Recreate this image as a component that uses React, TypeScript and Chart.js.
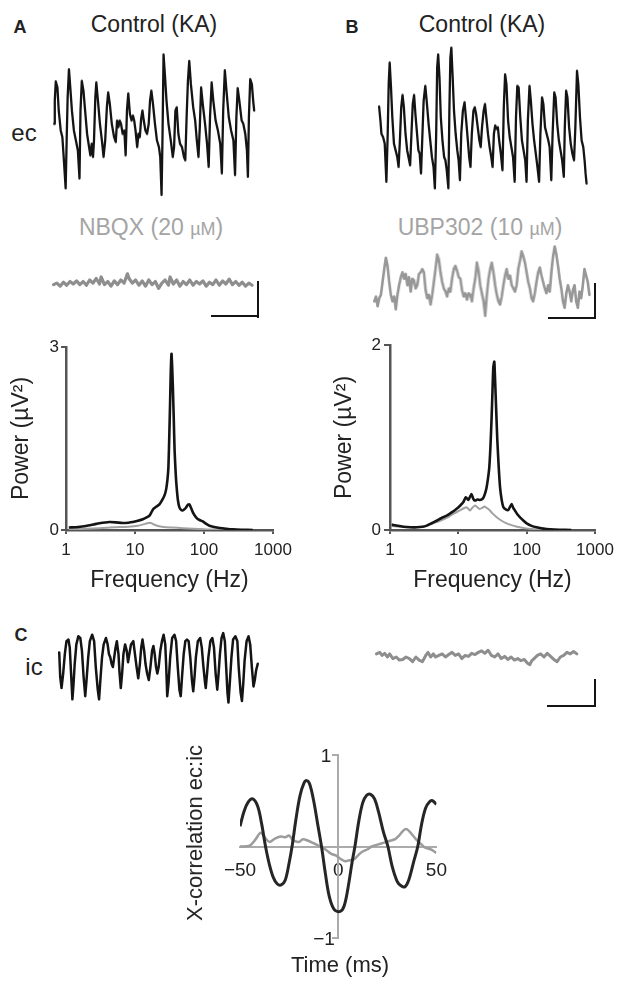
import React, { useEffect, useRef } from "react";
import { Chart, registerables } from "chart.js";

Chart.register(...registerables);

const FONT = '"Liberation Sans", Arial, Helvetica, sans-serif';
Chart.defaults.font.family = FONT;
Chart.defaults.color = "#222";

type Pt = [number, number];

// ---------- Raw traces: [sample, amplitude (µV)] ----------
const ecControlA: Pt[] = [
  [0, 10], [2, 80], [5, 138], [10, 120], [14, 50], [20, -10], [25, -30], [29, -90], [35, -185], [38, -40],
  [41, 90], [45, 175], [49, 120], [54, 50], [60, -10], [66, -40], [72, -70], [77, -155], [80, 50], [84, 140],
  [89, 110], [94, 50], [100, -20], [106, -60], [110, -85], [114, -50], [118, -90], [121, -40], [125, 90], [128, 135],
  [133, 80], [139, 10], [145, -40], [150, -90], [155, -40], [160, 60], [164, 105], [169, 70], [175, 10], [182, -30],
  [187, -45], [191, 20], [195, 0], [199, 20], [203, 10], [208, -20], [213, -10], [217, -85], [221, 50], [225, 102],
  [230, 40], [235, 20], [239, 35], [243, 20], [247, -10], [252, -60], [256, -20], [260, -30], [264, 25], [268, 50],
  [272, 20], [277, -10], [282, -20], [287, 10], [291, 80], [295, 110], [300, 70], [306, 10], [312, -40], [318, -60],
  [322, -90], [326, -205], [329, -20], [332, 220], [336, 160], [341, 80], [347, 10], [354, -40], [360, -90], [364, -60],
  [368, 50], [372, 60], [377, -20], [382, -50], [388, -60], [394, -90], [398, -100], [402, 30], [406, 140], [410, 200],
  [415, 130], [422, 60], [428, 20], [433, -40], [438, -90], [442, 0], [446, 120], [451, 70], [458, 10], [464, -50],
  [469, -120], [473, 30], [478, 135], [483, 80], [490, 20], [497, -10], [504, -50], [509, -140], [513, 50], [518, 172],
  [523, 110], [530, 30], [537, -10], [544, -40], [549, -145], [553, 30], [557, 118], [562, 80], [569, 20], [574, 10],
  [580, -20], [585, -70], [588, -150], [591, 30], [595, 145], [600, 130], [604, 80], [607, 50],
];

const ecControlB: Pt[] = [
  [0, 62], [4, 20], [7, -20], [12, -30], [17, -50], [22, -165], [26, -20], [29, 130], [32, 195], [36, 120],
  [40, 30], [45, -50], [50, -70], [55, -90], [59, -120], [63, -40], [67, 60], [71, 97], [75, 60], [80, -20],
  [85, -70], [89, -90], [94, -115], [98, -20], [102, 70], [106, 97], [110, 40], [115, -20], [119, -70], [123, -80],
  [127, -140], [131, -30], [135, 80], [140, 125], [145, 70], [150, 10], [155, -40], [160, -90], [165, -120], [169, -185],
  [173, -20], [176, 180], [179, 220], [183, 150], [187, 30], [192, -40], [197, -90], [201, -100], [205, -130], [210, -185],
  [213, 50], [216, 210], [219, 240], [223, 150], [227, 50], [232, -20], [237, -70], [241, -100], [245, -160], [249, -20],
  [254, 50], [259, 75], [264, 20], [269, -40], [273, -90], [277, -120], [281, -20], [286, 50], [290, 60], [294, 40],
  [299, 0], [304, -40], [308, -60], [312, 0], [317, 50], [321, 70], [325, 30], [330, -20], [335, -60], [340, -90],
  [344, -120], [348, -20], [352, 5], [356, -5], [360, 0], [364, -40], [369, -80], [374, -130], [378, 60], [382, 160],
  [386, 130], [391, 20], [396, -30], [401, -60], [406, -90], [411, -165], [415, 30], [419, 125], [423, 120], [428, 30],
  [433, -40], [438, -70], [443, -100], [447, -165], [451, 20], [456, 125], [460, 80], [465, 10], [470, -40], [475, -80],
  [480, -120], [485, -165], [489, -20], [494, 90], [498, 70], [503, 0], [508, -20], [513, -40], [517, -60], [522, -160],
  [526, -20], [531, 105], [535, 90], [540, 10], [545, -40], [550, -70], [555, -100], [560, -150], [563, 0], [567, 110],
  [571, 90], [576, 0], [581, -50], [586, -80], [591, -100], [595, 0], [600, 170], [604, 130], [609, 30], [614, -40],
  [619, -60], [623, -100], [626, -140], [629, -170],
];

const ecNBQX: Pt[] = [
  [0, -2], [10, 3], [20, -7], [30, 6], [40, -4], [50, 8], [60, 0], [70, 10], [80, -2], [90, 8],
  [100, -4], [110, 13], [120, 3], [130, 18], [140, 0], [145, 23], [155, -2], [165, 8], [175, -7], [185, 10],
  [195, -2], [205, 13], [215, 3], [225, 33], [230, 18], [240, 3], [250, 13], [260, -4], [270, 10], [280, -7],
  [290, 13], [300, -2], [310, 8], [320, -14], [330, 3], [340, 13], [350, -4], [355, 23], [365, 0], [375, 13],
  [385, -7], [395, 8], [405, -2], [415, 13], [425, -4], [435, 8], [445, 0], [455, 10], [465, -7], [475, 6],
  [485, -2], [495, 13], [505, -4], [515, 10], [525, 0], [535, 16], [545, -2], [555, 8], [565, -4], [575, 6],
  [585, -7], [595, 3], [605, -4],
];

const ecUBP302: Pt[] = [
  [0, -50], [5, -35], [10, -65], [15, -40], [20, -30], [25, 10], [30, 50], [35, 85], [40, 60], [45, 10],
  [50, -30], [55, -50], [60, -35], [65, -75], [70, -30], [75, 0], [80, 25], [85, 40], [90, 20], [95, 35],
  [100, 0], [105, 25], [110, -20], [115, 20], [120, 15], [125, -10], [130, 0], [135, 35], [140, 40], [145, 50],
  [150, 40], [155, -15], [160, -40], [165, -30], [170, -60], [175, -30], [180, 10], [185, 50], [190, 95], [195, 80],
  [200, 40], [205, 10], [210, -10], [215, -20], [220, -35], [225, -10], [230, -20], [235, 20], [240, 50], [245, 60],
  [250, 45], [255, 25], [260, 20], [265, -15], [270, -35], [275, -25], [280, -45], [285, -25], [290, -30], [295, -50],
  [300, -10], [305, 20], [310, 70], [315, 45], [320, 0], [325, -25], [330, -50], [335, -95], [340, -30], [345, 20],
  [350, 50], [355, 70], [360, 40], [365, 0], [370, -30], [375, -50], [380, -60], [385, -35], [390, 0], [395, 30],
  [400, 50], [405, 20], [410, 30], [415, 0], [420, -10], [425, -20], [430, 0], [435, 50], [440, 75], [445, 105],
  [450, 90], [455, 70], [460, 40], [465, 10], [470, -10], [475, -40], [480, -50], [485, -25], [490, 10], [495, 40],
  [500, 55], [505, 30], [510, 10], [515, -10], [520, -25], [525, 0], [530, -20], [535, 40], [540, 90], [545, 120],
  [550, 95], [555, 60], [560, 20], [565, -10], [570, -50], [575, -70], [580, -25], [585, 0], [590, -20], [595, -50],
  [600, -15], [605, 0], [610, -50], [615, -70], [620, -20], [625, -40], [630, 0], [635, 50], [640, 30], [645, 10],
  [650, -30],
];

const icControl: Pt[] = [
  [0, 45], [3, -30], [7, -65], [12, -20], [17, 40], [22, 80], [28, 85], [32, 60], [36, -20], [40, -100],
  [43, -60], [47, 10], [52, 70], [58, 95], [64, 90], [69, 50], [74, -30], [79, -90], [83, -40], [88, 30],
  [93, 80], [100, 100], [106, 80], [111, 0], [117, -70], [121, -100], [125, -40], [130, 30], [135, 70], [142, 90],
  [147, 70], [151, 40], [155, 30], [159, 10], [163, 0], [167, 30], [171, 60], [175, 80], [180, 40], [183, -15],
  [187, -65], [191, -20], [195, 40], [200, 70], [205, 50], [209, 15], [213, 40], [218, 70], [225, 80], [230, 40],
  [235, 0], [240, -35], [245, 10], [249, 60], [253, 85], [258, 50], [262, 10], [267, -20], [272, -40], [277, 0],
  [282, 50], [286, 65], [290, 40], [294, 0], [298, -20], [302, 0], [307, 50], [312, 80], [317, 100], [322, 70],
  [325, 0], [328, -90], [332, -50], [337, 30], [343, 90], [350, 100], [355, 80], [360, 0], [365, -70], [369, -90],
  [373, -30], [378, 40], [383, 80], [388, 85], [393, 80], [398, 30], [403, -40], [407, -75], [411, -30], [415, 30],
  [421, 80], [428, 90], [433, 60], [438, 0], [443, -50], [445, -65], [449, -20], [453, 30], [459, 80], [465, 90],
  [470, 60], [475, -20], [480, -70], [484, -20], [488, 40], [493, 90], [498, 105], [503, 80], [507, 0], [511, -80],
  [514, -110], [518, -50], [523, 30], [528, 85], [535, 95], [541, 80], [545, 0], [551, -80], [555, -105], [559, -50],
  [563, 20], [569, 80], [575, 95], [580, 70], [585, 0], [590, -60], [594, -40], [598, -10], [603, 10],
];

const icUBP302: Pt[] = [
  [0, 10], [10, 15], [17, 5], [25, 12], [33, 0], [40, 10], [50, -5], [60, 0], [70, -10], [80, -8],
  [90, 0], [100, -5], [110, -15], [120, 0], [130, -10], [140, -15], [150, 5], [157, 15], [165, 0], [173, 10],
  [180, 0], [190, 5], [200, 10], [210, 0], [220, 8], [230, 15], [240, 5], [250, 10], [260, -5], [270, 5],
  [280, 2], [290, 12], [300, 8], [310, 15], [320, 20], [330, 12], [340, 22], [350, 5], [360, 0], [370, 10],
  [380, -5], [390, 2], [400, -8], [410, 0], [420, -10], [430, -5], [440, -12], [450, -8], [460, -20], [467, -25],
  [473, -12], [480, -5], [490, 5], [500, 10], [510, 0], [520, 12], [530, 2], [540, -8], [550, -15], [560, 0],
  [570, 5], [580, 15], [590, 10], [600, 18], [610, 10],
];

// ---------- Power spectra: [frequency (Hz), power (µV²)] ----------
const spectrumAControl: Pt[] = [
  [1.1, 0.04], [1.5, 0.05], [1.95, 0.066], [2.5, 0.09], [3.05, 0.11], [4.25, 0.13], [5.3, 0.125], [6.6, 0.115],
  [8, 0.12], [9.3, 0.13], [11, 0.15], [13, 0.175], [15, 0.21], [16.2, 0.235], [17.5, 0.3], [18.5, 0.345],
  [20.2, 0.38], [22.6, 0.42], [25.3, 0.51], [27, 0.58], [28.3, 0.67], [29.5, 0.82], [30.5, 1.03], [31.5, 1.6],
  [32.3, 2.12], [33, 2.6], [33.8, 2.89], [34.5, 2.7], [35.4, 2.34], [36.5, 1.8], [37.5, 1.3], [39, 0.9],
  [40.5, 0.65], [42, 0.48], [44, 0.37], [46.5, 0.33], [49, 0.32], [52, 0.34], [55, 0.37], [58, 0.41],
  [61.5, 0.42], [65, 0.36], [69, 0.29], [75, 0.22], [81, 0.18], [88, 0.16], [96, 0.14], [108, 0.1],
  [120, 0.07], [140, 0.05], [168, 0.033], [210, 0.02], [262, 0.01], [350, 0.004], [510, 0.0],
];
const spectrumANBQX: Pt[] = [
  [1.1, 0.01], [2, 0.02], [3, 0.03], [5, 0.045], [8, 0.055], [11, 0.07], [14, 0.1], [16.5, 0.12],
  [18, 0.1], [21, 0.07], [26, 0.05], [35, 0.04], [50, 0.03], [70, 0.02], [110, 0.01], [180, 0.005], [300, 0.0],
];
const spectrumBControl: Pt[] = [
  [1.06, 0.058], [1.3, 0.045], [1.57, 0.036], [2, 0.03], [2.45, 0.029], [3, 0.035], [3.44, 0.047], [4, 0.07],
  [4.8, 0.1], [5.7, 0.13], [6.75, 0.155], [8, 0.19], [9.45, 0.23], [10.5, 0.26], [11.8, 0.3], [12.9, 0.354],
  [14, 0.325], [15.6, 0.39], [16.5, 0.34], [17.5, 0.318], [19, 0.33], [20.7, 0.325], [22, 0.33], [23.2, 0.347],
  [24.5, 0.39], [25.9, 0.46], [27.2, 0.56], [28.4, 0.68], [29.5, 0.9], [30.7, 1.22], [31.6, 1.5], [32.5, 1.76],
  [33.6, 1.82], [34.2, 1.7], [34.8, 1.55], [36, 1.25], [37.2, 0.97], [39, 0.68], [40.8, 0.46], [43, 0.33],
  [45.7, 0.246], [50, 0.22], [54, 0.217], [57, 0.25], [60.3, 0.28], [63.5, 0.24], [67.5, 0.21], [73, 0.17],
  [80, 0.137], [90, 0.1], [100, 0.072], [118, 0.045], [140, 0.029], [175, 0.015], [219, 0.007], [300, 0.002], [450, 0.0],
];
const spectrumBUBP302: Pt[] = [
  [1.06, 0.043], [1.5, 0.035], [1.85, 0.029], [2.5, 0.03], [3.44, 0.043], [4.2, 0.07], [5.2, 0.094], [6.3, 0.12],
  [7.3, 0.145], [8.7, 0.18], [10.4, 0.21], [12, 0.235], [13.2, 0.246], [14, 0.23], [14.8, 0.21], [16, 0.24],
  [17.5, 0.264], [19, 0.245], [20.5, 0.228], [22.5, 0.24], [24, 0.253], [26.5, 0.235], [29, 0.21], [31.5, 0.18],
  [34.4, 0.155], [38.5, 0.125], [43, 0.1], [49, 0.078], [57, 0.058], [70, 0.038], [89, 0.022], [120, 0.01],
  [170, 0.004], [260, 0.0],
];

// ---------- Cross-correlation ec:ic: [lag (ms), r] ----------
const xcorrControl: Pt[] = [
  [-50, 0.22], [-48, 0.38], [-46, 0.48], [-43.5, 0.52], [-41, 0.44], [-39, 0.25], [-37, 0.0], [-35, -0.2],
  [-33, -0.34], [-31, -0.41], [-29, -0.42], [-27, -0.37], [-25, -0.18], [-23.5, 0.0], [-21.5, 0.3], [-19.5, 0.55],
  [-17.5, 0.69], [-16, 0.72], [-14.5, 0.68], [-12.5, 0.5], [-10.5, 0.25], [-8.5, 0.0], [-6.5, -0.3], [-4.5, -0.55],
  [-2, -0.69], [1, -0.71], [3, -0.65], [5, -0.45], [7, -0.18], [8.5, 0.0], [10.5, 0.28], [12.5, 0.48],
  [14.5, 0.56], [16.5, 0.57], [18.5, 0.52], [20.5, 0.38], [23, 0.16], [25.3, 0.0], [27.5, -0.22], [30, -0.38],
  [32, -0.43], [34, -0.44], [36, -0.36], [38.5, -0.16], [40.5, 0.0], [42.5, 0.25], [44.5, 0.42], [46.5, 0.49],
  [48, 0.5], [50, 0.46],
];
const xcorrUBP302: Pt[] = [
  [-50, 0.0], [-45, 0.01], [-42, 0.08], [-39.5, 0.15], [-37, 0.09], [-35, 0.05], [-32, 0.09], [-29, 0.11],
  [-27, 0.1], [-25, 0.12], [-23, 0.07], [-20, 0.05], [-18, 0.08], [-15, 0.06], [-12, 0.03], [-9, 0.0],
  [-6, -0.04], [-3.5, -0.08], [-1, -0.1], [1.5, -0.14], [3.5, -0.16], [6, -0.15], [8, -0.14], [10, -0.1],
  [12, -0.06], [15, -0.03], [17, 0.0], [20, 0.02], [23, 0.04], [26, 0.06], [29, 0.08], [31, 0.12],
  [33, 0.17], [34.5, 0.19], [36, 0.17], [38, 0.12], [40, 0.07], [42, 0.03], [44, -0.01], [47, -0.03], [50, -0.07],
];

// ---------- Tick labels ----------
const freqTicks = [1, 10, 100, 1000];
const powerATicks = [0, 3];
const powerBTicks = [0, 2];
const lagTicks = [-50, 0, 50];
const corrTicks = [-1, 1];

const fmt = (v: number) => (v < 0 ? "\u2212" + Math.abs(v) : String(v));
const toXY = (pts: Pt[]) => pts.map(([x, y]) => ({ x, y }));

const baseOptions = {
  animation: false,
  responsive: true,
  maintainAspectRatio: false,
  events: [],
  plugins: { legend: { display: false }, tooltip: { enabled: false } },
};

function traceConfig(pts: Pt[], color: string, width: number, xr: [number, number], yr: [number, number]) {
  return () => ({
    type: "line",
    data: {
      datasets: [
        {
          data: toXY(pts),
          borderColor: color,
          borderWidth: width,
          pointRadius: 0,
          tension: 0,
          borderJoinStyle: "round",
          borderCapStyle: "round",
          fill: false,
        },
      ],
    },
    options: {
      ...baseOptions,
      layout: { padding: 0 },
      scales: {
        x: { type: "linear", display: false, min: xr[0], max: xr[1] },
        y: { type: "linear", display: false, min: yr[0], max: yr[1] },
      },
    },
  });
}

function spectrumConfig(
  control: Pt[],
  drug: Pt[],
  yTicks: number[],
  p: { yWidth: number; titlePad: number; tickLen: number; tickPad: number; padding: any }
) {
  const axisColor = "#555";
  return () => ({
    type: "line",
    data: {
      datasets: [
        { data: toXY(control), borderColor: "#141414", borderWidth: 2.6, pointRadius: 0, tension: 0.2, fill: false },
        { data: toXY(drug), borderColor: "#a2a2a2", borderWidth: 2, pointRadius: 0, tension: 0.2, fill: false },
      ],
    },
    options: {
      ...baseOptions,
      layout: { padding: p.padding },
      scales: {
        x: {
          type: "logarithmic",
          min: freqTicks[0],
          max: freqTicks[freqTicks.length - 1],
          afterBuildTicks: (s: any) => {
            s.ticks = freqTicks.map((v) => ({ value: v }));
          },
          afterFit: (s: any) => {
            s.height = 70;
          },
          ticks: { callback: (v: number) => String(v), font: { size: 17 }, color: "#222", padding: 6, maxRotation: 0, autoSkip: false },
          grid: { display: true, drawOnChartArea: false, drawTicks: true, tickLength: 4, color: axisColor, lineWidth: 2 },
          border: { display: true, color: axisColor, width: 2.5 },
          title: { display: true, text: "Frequency (Hz)", font: { size: 23 }, color: "#222", padding: { top: 0, bottom: 6 } },
        },
        y: {
          type: "linear",
          min: yTicks[0],
          max: yTicks[yTicks.length - 1],
          afterBuildTicks: (s: any) => {
            s.ticks = yTicks.map((v) => ({ value: v }));
          },
          afterFit: (s: any) => {
            s.width = p.yWidth;
          },
          ticks: { callback: (v: number) => String(v), font: { size: 17 }, color: "#222", padding: p.tickPad },
          grid: { display: true, drawOnChartArea: false, drawTicks: true, tickLength: p.tickLen, color: axisColor, lineWidth: 2 },
          border: { display: true, color: axisColor, width: 2.5 },
          title: { display: true, text: "Power (\u00b5V\u00b2)", font: { size: 23 }, color: "#222", padding: { top: p.titlePad, bottom: 0 } },
        },
      },
    },
  });
}

function xcorrConfig() {
  const axisColor = "#ababab";
  return () => ({
    type: "line",
    data: {
      datasets: [
        { data: toXY(xcorrControl), borderColor: "#262626", borderWidth: 3, pointRadius: 0, tension: 0.35, fill: false },
        { data: toXY(xcorrUBP302), borderColor: "#9c9c9c", borderWidth: 2.5, pointRadius: 0, tension: 0.3, fill: false },
      ],
    },
    options: {
      ...baseOptions,
      layout: { padding: { left: 40, top: 15, right: 12, bottom: 22 } },
      scales: {
        x: {
          type: "linear",
          position: { y: 0 },
          min: lagTicks[0],
          max: lagTicks[lagTicks.length - 1],
          afterBuildTicks: (s: any) => {
            s.ticks = lagTicks.map((v) => ({ value: v }));
          },
          ticks: { callback: (v: number) => fmt(v), font: { size: 19 }, color: "#222", padding: 13, maxRotation: 0, autoSkip: false },
          grid: { display: false, drawTicks: false },
          border: { display: true, color: axisColor, width: 2 },
        },
        y: {
          type: "linear",
          position: { x: 0 },
          min: corrTicks[0],
          max: corrTicks[corrTicks.length - 1],
          afterBuildTicks: (s: any) => {
            s.ticks = corrTicks.map((v) => ({ value: v }));
          },
          ticks: { display: false },
          grid: { display: true, drawOnChartArea: false, drawTicks: true, tickLength: 5, color: axisColor, lineWidth: 2 },
          border: { display: true, color: axisColor, width: 2 },
        },
      },
    },
  });
}

function ChartBox({ left, top, width, height, make }: any) {
  const ref = useRef<HTMLCanvasElement>(null);
  useEffect(() => {
    const chart = new Chart(ref.current as HTMLCanvasElement, make() as any);
    return () => chart.destroy();
  }, []);
  return (
    <div style={{ position: "absolute", left, top, width, height }}>
      <canvas ref={ref} />
    </div>
  );
}

function Label({ x, y, size, children, color = "#222", bold = false, rotate = 0 }: any) {
  return (
    <div
      style={{
        position: "absolute",
        left: x,
        top: y,
        transform: `translate(-50%, -50%) rotate(${rotate}deg)`,
        fontSize: size,
        fontWeight: bold ? 700 : 400,
        color,
        fontFamily: FONT,
        lineHeight: 1,
        whiteSpace: "nowrap",
      }}
    >
      {children}
    </div>
  );
}

function Bar({ left, top, width, height }: any) {
  return <div style={{ position: "absolute", left, top, width, height, background: "#141414" }} />;
}

const GRAY_TEXT = "#a4a4a4";

export default function App() {
  return (
    <div style={{ position: "absolute", left: 0, top: 0, width: 620, height: 983, background: "#fff", overflow: "hidden" }}>
      {/* Panel labels and titles */}
      <Label x={20} y={27} size={18} bold>A</Label>
      <Label x={154} y={24} size={23}>Control (KA)</Label>
      <Label x={352} y={27} size={18} bold>B</Label>
      <Label x={482} y={24} size={23}>Control (KA)</Label>
      <Label x={24} y={133} size={24}>ec</Label>
      <Label x={151} y={227} size={23} color={GRAY_TEXT}>
        NBQX (20 <span style={{ fontSize: "0.78em" }}>µM</span>)
      </Label>
      <Label x={480} y={227} size={23} color={GRAY_TEXT}>
        UBP302 (10 <span style={{ fontSize: "0.78em" }}>µM</span>)
      </Label>
      <Label x={21} y={635} size={18} bold>C</Label>
      <Label x={34} y={667} size={24}>ic</Label>

      {/* Raw traces */}
      <ChartBox left={50.67} top={40} width={206.33} height={166.67} make={traceConfig(ecControlA, "#141414", 2.3, [-6, 613], [-240, 260])} />
      <ChartBox left={375.67} top={40} width={213.67} height={166.67} make={traceConfig(ecControlB, "#141414", 2.3, [-6, 635], [-240, 260])} />
      <ChartBox left={49.67} top={264.33} width={205.67} height={40} make={traceConfig(ecNBQX, "#8e8e8e", 3.2, [-6, 611], [-60, 60])} />
      <ChartBox left={371.33} top={241.67} width={220.67} height={80} make={traceConfig(ecUBP302, "#979797", 2.6, [-6, 656], [-110, 130])} />
      <ChartBox left={56.33} top={626.67} width={205} height={81.67} make={traceConfig(icControl, "#141414", 2.5, [-6, 609], [-125, 120])} />
      <ChartBox left={373} top={636.67} width={207.33} height={40} make={traceConfig(icUBP302, "#8e8e8e", 3, [-6, 616], [-60, 60])} />

      {/* Scale bars */}
      <Bar left={257} top={281} width={2} height={37} />
      <Bar left={211} top={315} width={48} height={2} />
      <Bar left={594} top={283} width={2} height={36} />
      <Bar left={548} top={317} width={48} height={2} />
      <Bar left={594} top={679} width={2} height={28} />
      <Bar left={547} top={705} width={49} height={2} />

      {/* Power spectra */}
      <ChartBox
        left={0}
        top={330}
        width={310}
        height={270}
        make={spectrumConfig(spectrumAControl, spectrumANBQX, powerATicks, {
          yWidth: 66,
          titlePad: 8,
          tickLen: 5,
          tickPad: 2,
          padding: { left: 0, top: 17, right: 37, bottom: 0 },
        })}
      />
      <ChartBox
        left={310}
        top={330}
        width={310}
        height={270}
        make={spectrumConfig(spectrumBControl, spectrumBUBP302, powerBTicks, {
          yWidth: 80,
          titlePad: 21,
          tickLen: 6,
          tickPad: 3,
          padding: { left: 0, top: 15, right: 25, bottom: 0 },
        })}
      />

      {/* Cross-correlation */}
      <ChartBox left={200} top={740} width={260} height={220} make={xcorrConfig()} />
      <Label x={326} y={755} size={19}>{fmt(corrTicks[1])}</Label>
      <Label x={324} y={938} size={19}>{fmt(corrTicks[0])}</Label>
      <Label x={195} y={833} size={22} rotate={-90}>X-correlation ec:ic</Label>
      <Label x={340} y={965} size={22}>Time (ms)</Label>
    </div>
  );
}
